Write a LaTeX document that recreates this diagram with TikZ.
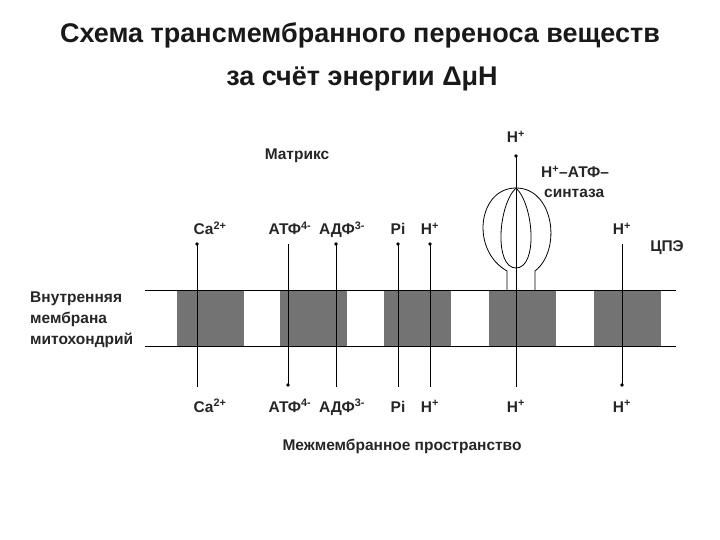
\documentclass[tikz,border=0pt]{standalone}
\usepackage{fontspec}
\setmainfont{Liberation Sans}
\newcommand{\supx}[1]{\textsuperscript{#1}}
\begin{document}
\begin{tikzpicture}[x=1pt,y=-1pt,
 lbl/.style={font=\fontsize{15.5}{21}\selectfont\bfseries,inner sep=0pt,text=black!85},
 bl/.style={lbl,anchor=base},
 ttl/.style={font=\fontsize{27}{30}\selectfont\bfseries,inner sep=0pt,text=black!90},
 blk/.style={fill=black!55,draw=none},
 mline/.style={line width=0.9pt},
 trans/.style={line width=0.8pt},
 dotend/.style={fill=black,circle,inner sep=1.4pt}]
\useasboundingbox (0,0) rectangle (720,540);
\node[ttl] (t1) at (360,35) {Схема трансмембранного переноса веществ};
\node[ttl] (t2) at (362,79) {за счёт энергии ΔμН};
\node[lbl] (matrix) at (297,156) {Матрикс};
\node[lbl] (inter) at (402,446) {Межмембранное пространство};
\node[lbl,align=left,anchor=west] (memb) at (30,320) {Внутренняя\\мембрана\\митохондрий};
\node[lbl] (cpe) at (667,248) {ЦПЭ};
\node[lbl,anchor=west] (syn1) at (541,172) {Н\supx{+}–АТФ–};
\node[lbl,anchor=west] (syn2) at (544,193) {синтаза};
\foreach \x in {177,280,384,489,594}{\fill[blk] (\x,290) rectangle ++(67,56);}
\draw[mline] (145,290) -- (676,290) (145,346) -- (676,346);
% top labels
\node[bl] (ca1) at (210,235) {Са\supx{2+}};
\node[bl] (atf1) at (290,235) {АТФ\supx{4-}};
\node[bl] (adf1) at (342,235) {АДФ\supx{3-}};
\node[bl] (pi1) at (398,235) {Pi};
\node[bl] (h1) at (430,235) {Н\supx{+}};
\node[bl] (h2) at (622,235) {Н\supx{+}};
\node[bl] (hs) at (516,143) {Н\supx{+}};
% bottom labels
\node[bl] (ca2) at (210,412) {Са\supx{2+}};
\node[bl] (atf2) at (290,412) {АТФ\supx{4-}};
\node[bl] (adf2) at (342,412) {АДФ\supx{3-}};
\node[bl] (pi2) at (398,412) {Pi};
\node[bl] (h3) at (430,412) {Н\supx{+}};
\node[bl] (h4) at (516,412) {Н\supx{+}};
\node[bl] (h5) at (622,412) {Н\supx{+}};
% endpoints
\foreach \n/\x/\a/\b in {c/197/244/387, t/288/244/385, d/336/244/387, p/398/244/387, h/430/244/387, s/516/156/387, r/622/244/385}{
 \coordinate (\n top) at (\x,\a); \coordinate (\n bot) at (\x,\b);
 \draw[trans] (\n top) -- (\n bot);}
\foreach \n in {ctop,dtop,ptop,htop,stop,tbot,rbot}{\node[dotend] (d\n) at (\n) {};}
% synthase
\coordinate (st) at (516,188);
\draw[trans] (507,290) -- (507,271) .. controls (470,250) and (478,188) .. (st)
 .. controls (554,188) and (562,250) .. (535,271) -- (535,290);
\draw[trans] (st) .. controls (498,205) and (494,268) .. (516,268)
 .. controls (538,268) and (534,205) .. (st);
\end{tikzpicture}
\end{document}
